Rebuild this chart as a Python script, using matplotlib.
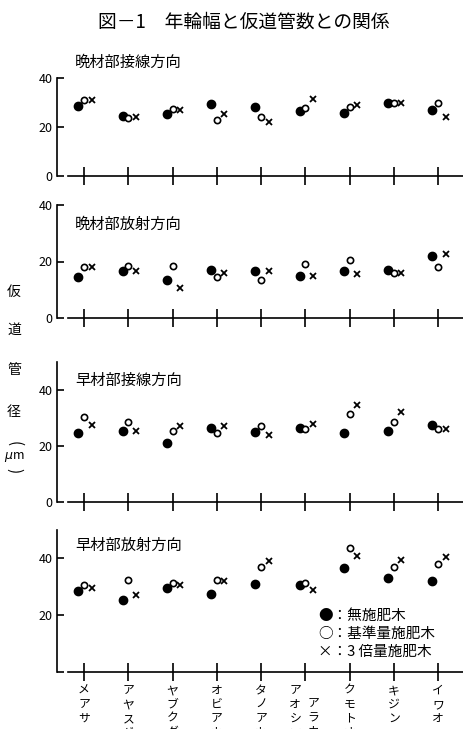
import matplotlib.pyplot as plt
from matplotlib.transforms import blended_transform_factory

plt.rcParams['font.family'] = ['Noto Sans CJK JP', 'DejaVu Sans']

# cultivars (x axis)
cultivars = ["メアサ", "アヤスギ", "ヤブクグリ", "オビアカ", "タノアカ",
             "アオシマアラカワ", "クモトオシ", "キジン", "イワオ"]

# tracheid diameter (um): no fertilizer / standard / triple dose
lt_none = [28.5, 24.5, 25.5, 29.5, 28.0, 26.5, 25.8, 30.0, 27.0]
lt_std = [31.0, 23.5, 27.5, 23.0, 24.0, 27.6, 28.0, 30.0, 30.0]
lt_triple = [31.0, 24.0, 27.0, 25.5, 22.0, 31.5, 29.0, 30.0, 24.0]

lr_none = [14.5, 16.5, 13.5, 17.0, 16.5, 15.0, 16.5, 17.0, 22.0]
lr_std = [18.0, 18.5, 18.5, 14.5, 13.5, 19.0, 20.5, 16.0, 18.0]
lr_triple = [18.0, 16.5, 10.5, 16.0, 16.5, 15.0, 15.5, 16.0, 22.5]

et_none = [24.5, 25.5, 21.0, 26.5, 25.0, 26.5, 24.5, 25.5, 27.5]
et_std = [30.5, 28.5, 25.5, 24.5, 27.0, 26.0, 31.5, 28.5, 26.0]
et_triple = [27.5, 25.5, 27.0, 27.0, 24.0, 28.0, 34.5, 32.0, 26.0]

er_none = [28.5, 25.5, 29.5, 27.5, 31.0, 30.5, 36.5, 33.0, 32.0]
er_std = [30.5, 32.5, 31.5, 32.5, 37.0, 31.5, 43.5, 37.0, 38.0]
er_triple = [29.5, 27.0, 30.5, 32.0, 39.0, 29.0, 41.0, 39.5, 40.5]

panel_titles = ["晩材部接線方向", "晩材部放射方向", "早材部接線方向", "早材部放射方向"]
panel_data = [(lt_none, lt_std, lt_triple), (lr_none, lr_std, lr_triple),
              (et_none, et_std, et_triple), (er_none, er_std, er_triple)]
panel_ymax = [40, 40, 50, 50]
panel_yticks = [[0, 20, 40], [0, 20, 40], [0, 20, 40], [0, 20, 40]]
panel_yticklabels = [["0", "20", "40"]] * 3 + [["", "20", "40"]]

W, H = 463, 729
fig = plt.figure(figsize=(W / 100, H / 100), dpi=100)

# axes boxes in pixels: (top, bottom)
boxes = [(78, 176), (205, 318), (362, 502), (530, 672)]
x0, x1 = 57, 463
xlim = (-0.61, 8.56)

fig.text(244, H - 22, "図－1　年輪幅と仮道管数との関係", fontsize=13.5,
         ha="center", va="center", transform=None)

xs = list(range(len(cultivars)))
axes = []
for i, (top, bot) in enumerate(boxes):
    ax = fig.add_axes([x0 / W, 1 - bot / H, (x1 - x0) / W, (bot - top) / H])
    axes.append(ax)
    none, std, triple = panel_data[i]
    ax.plot([x - 0.13 for x in xs], none, "o", color="black", ms=6,
            clip_on=False)
    ax.plot([x + 0.0 for x in xs], std, "o", mfc="white", mec="black",
            mew=1.2, ms=4.5, clip_on=False)
    ax.plot([x + 0.17 for x in xs], triple, "x", color="black", mew=1.3,
            ms=4.5, clip_on=False)
    ax.set_xlim(*xlim)
    ax.set_ylim(0, panel_ymax[i])
    for s in ("top", "right"):
        ax.spines[s].set_visible(False)
    ax.spines["bottom"].set_bounds(-0.36, xlim[1])
    ax.spines["left"].set_bounds(0, panel_ymax[i])
    ax.spines["left"].set_linewidth(1.2)
    ax.spines["bottom"].set_linewidth(1.2)
    ax.set_xticks(xs)
    ax.set_xticklabels([])
    ax.tick_params(axis="x", direction="inout", length=13, width=1.2)
    ax.set_yticks(panel_yticks[i])
    ax.set_yticklabels(panel_yticklabels[i])
    ax.tick_params(axis="y", direction="in", length=5, width=1.2,
                   labelsize=9, pad=3)
    ax.patch.set_alpha(0)
    ty = [62, 224, 380, 545][i]
    fig.text(75, H - ty, panel_titles[i], fontsize=11, ha="left",
             va="center", transform=None)

# vertical y-axis label
for ch, y, rot, fs in [("仮", 292, 0, 10), ("道", 330, 0, 10),
                       ("管", 370, 0, 10), ("径", 412, 0, 10),
                       ("(", 444, -90, 11), (r"$\mu$m", 457, 0, 9),
                       (")", 471, -90, 11)]:
    fig.text(14, H - y, ch, fontsize=fs, rotation=rot, ha="center",
             va="center", transform=None)

# cultivar names, written vertically under the bottom panel
bt = blended_transform_factory(axes[3].transData, fig.transFigure)
ytop = 1 - 684 / H
for x, name in zip(xs, cultivars):
    if name == "アオシマアラカワ":
        axes[3].text(x - 0.23, ytop, "\n".join("アオシマ"), transform=bt,
                     ha="center", va="top", fontsize=8.5, linespacing=1.1)
        axes[3].text(x + 0.18, ytop - 13 / H, "\n".join("アラカワ"),
                     transform=bt, ha="center", va="top", fontsize=8.5,
                     linespacing=1.1)
    else:
        axes[3].text(x, ytop, "\n".join(name), transform=bt, ha="center",
                     va="top", fontsize=8.5, linespacing=1.1)

# legend
for y, label in [(616, "●：無施肥木"), (634, "○：基準量施肥木"),
                 (652, "×：3 倍量施肥木")]:
    fig.text(318, H - y, label, fontsize=10.5, ha="left", va="center",
             transform=None)

fig.savefig("out.png", dpi=100)
